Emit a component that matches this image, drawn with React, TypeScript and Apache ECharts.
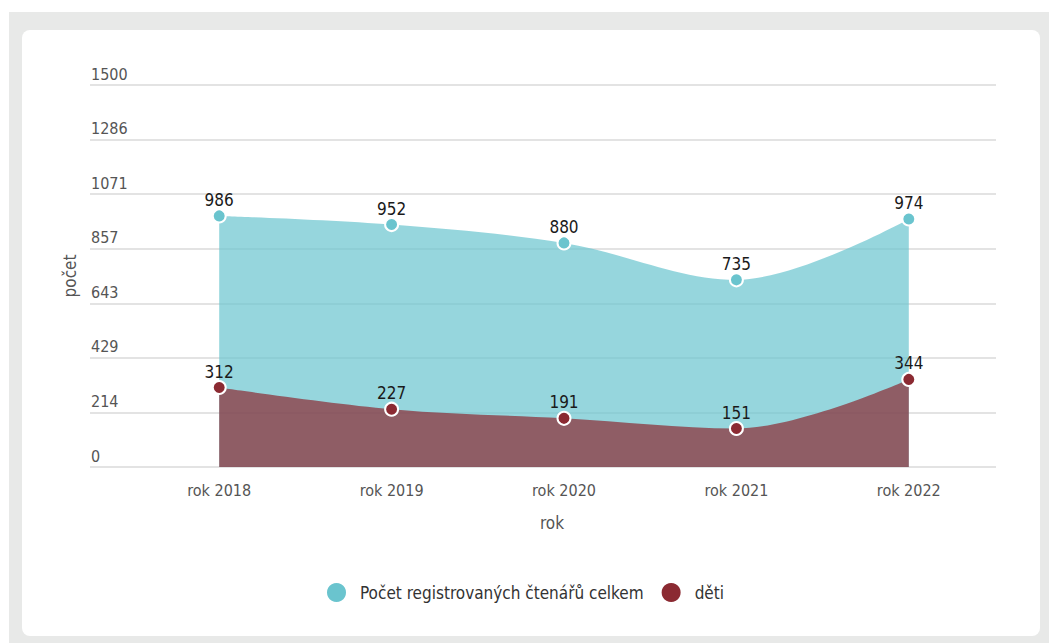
import React, { useEffect, useRef } from "react";
import * as echarts from "echarts";

const categories = ["rok 2018", "rok 2019", "rok 2020", "rok 2021", "rok 2022"];
const totalReaders = [986, 952, 880, 735, 974];
const childReaders = [312, 227, 191, 151, 344];
const seriesNames = ["Počet registrovaných čtenářů celkem", "děti"];
const yMax = 1500;
const yInterval = 1500 / 7;

const FONT = '"DejaVu Sans Condensed", "Liberation Sans", sans-serif';

export default function App() {
  const ref = useRef<HTMLDivElement>(null);
  useEffect(() => {
    if (!ref.current) return;
    const chart = echarts.init(ref.current, null, { renderer: "svg" });
    chart.setOption({
      animation: false,
      textStyle: { fontFamily: FONT },
      grid: [
        { left: 90, right: 53, top: 85, bottom: 176 },
        { left: 133, right: 54, top: 85, bottom: 176 },
      ],
      xAxis: [
        { type: "category", gridIndex: 0, data: categories, show: false },
        {
          type: "category",
          gridIndex: 1,
          data: categories,
          boundaryGap: true,
          axisLine: { show: false },
          axisTick: { show: false },
          axisLabel: { color: "#555", fontSize: 16, margin: 15, fontFamily: FONT },
          name: "rok",
          nameLocation: "middle",
          nameGap: 47,
          nameTextStyle: { color: "#555", fontSize: 17, padding: [0, 24, 0, 0], fontFamily: FONT },
        },
      ],
      yAxis: [
        {
          type: "value",
          gridIndex: 0,
          min: 0,
          max: yMax,
          interval: yInterval,
          axisLine: { show: false },
          axisTick: { show: false },
          splitLine: { show: true, lineStyle: { color: "#e3e3e3", width: 2 } },
          axisLabel: {
            inside: true,
            margin: 1,
            verticalAlign: "bottom",
            padding: [0, 0, 3, 0],
            color: "#555",
            fontSize: 16,
            fontFamily: FONT,
            showMaxLabel: true,
            formatter: (v: number) => String(Math.round(v)),
          },
          name: "počet",
          nameLocation: "middle",
          nameRotate: 90,
          nameGap: 12,
          nameTextStyle: { color: "#555", fontSize: 17, fontFamily: FONT },
        },
        {
          type: "value",
          gridIndex: 1,
          min: 0,
          max: yMax,
          interval: yInterval,
          show: false,
          splitLine: { show: false },
        },
      ],
      legend: {
        bottom: 34,
        left: "center",
        icon: "circle",
        itemWidth: 21,
        itemHeight: 21,
        itemGap: 16,
        textStyle: { color: "#333", fontSize: 17, padding: [0, 0, 0, 8], fontFamily: FONT },
        data: seriesNames,
      },
      series: [
        {
          name: seriesNames[0],
          type: "line",
          xAxisIndex: 1,
          yAxisIndex: 1,
          data: totalReaders,
          smooth: 0.35,
          symbol: "circle",
          symbolSize: 13,
          itemStyle: { color: "#6ac4ce", borderColor: "#fff", borderWidth: 2 },
          lineStyle: { width: 0 },
          areaStyle: { color: "#6ac4ce", opacity: 0.7 },
          label: { show: true, position: "top", distance: 0, color: "#1a1a1a", fontSize: 17, fontFamily: FONT },
          z: 2,
        },
        {
          name: seriesNames[1],
          type: "line",
          xAxisIndex: 1,
          yAxisIndex: 1,
          data: childReaders,
          smooth: 0.35,
          symbol: "circle",
          symbolSize: 13,
          itemStyle: { color: "#8b2a32", borderColor: "#fff", borderWidth: 2 },
          lineStyle: { width: 0 },
          areaStyle: { color: "#8b2a32", opacity: 0.7 },
          label: { show: true, position: "top", distance: 0, color: "#1a1a1a", fontSize: 17, fontFamily: FONT },
          z: 3,
        },
      ],
    });
    return () => chart.dispose();
  }, []);

  return (
    <div style={{ position: "fixed", left: 0, top: 0, width: 1049, height: 643, background: "#fff", overflow: "hidden" }}>
      <div style={{ position: "absolute", left: 9, top: 12, width: 1040, height: 631, background: "#e8e9e8" }} />
      <div style={{ position: "absolute", left: 22, top: 30, width: 1018, height: 606, background: "#fff", borderRadius: 8 }} />
      <div ref={ref} style={{ position: "absolute", left: 0, top: 0, width: 1049, height: 643 }} />
    </div>
  );
}
